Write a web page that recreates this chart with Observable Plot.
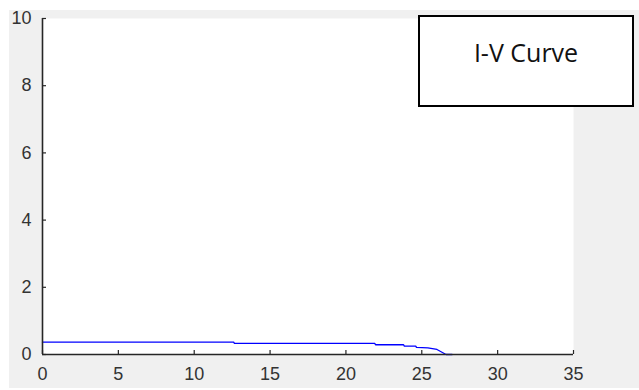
<!DOCTYPE html>
<html>
<head>
<meta charset="utf-8">
<script src="https://cdn.jsdelivr.net/npm/d3@7"></script>
<script src="https://cdn.jsdelivr.net/npm/@observablehq/plot@0.6"></script>
<style>
  html, body { margin: 0; padding: 0; background: #ffffff; }
  #wrap { position: relative; width: 639px; height: 390px; overflow: hidden; }
  #bg { position: absolute; left: 9px; top: 10px; width: 630px; height: 378px; background: #f0f0f0; }
  #chart { position: absolute; left: 0; top: 0; }
  #box { position: absolute; left: 418px; top: 15px; width: 212px; height: 88px; border: 2px solid #000; background: #fff;
         font-family: "Open Sans", sans-serif; font-size: 25px; color: #111; text-align: center; box-sizing: content-box; }
  #box span { display: block; margin-top: 19px; line-height: 32px; }
</style>
</head>
<body>
<div id="wrap">
  <div id="bg"></div>
  <div id="chart"></div>
  <div id="box"><span>I-V Curve</span></div>
</div>
<script>
const voltage = [0, 12.6, 12.65, 21.9, 21.95, 23.8, 23.85, 24.6, 24.65, 25.4, 26.0, 26.6, 27.0];
const current = [0.366, 0.366, 0.33, 0.33, 0.29, 0.29, 0.25, 0.25, 0.21, 0.20, 0.15, 0, 0];
const xTicks = [0, 5, 10, 15, 20, 25, 30, 35];
const yTicks = [0, 2, 4, 6, 8, 10];

const data = voltage.map((v, k) => ({v, i: current[k]}));
const axisColor = "#262626";
const labelFont = {fontSize: 18, fill: "#333333"};

const chart = Plot.plot({
  width: 639,
  height: 390,
  marginLeft: 42,
  marginRight: 66,
  marginTop: 18,
  marginBottom: 36,
  style: {background: "transparent", fontFamily: "'Liberation Sans', Arial, sans-serif"},
  x: {domain: [0, 35]},
  y: {domain: [0, 10]},
  marks: [
    Plot.frame({fill: "#ffffff", stroke: null}),
    Plot.line(data, {x: "v", y: "i", stroke: "#0000ff", strokeWidth: 1.3}),
    Plot.tickX(xTicks, {x: d => d, insetTop: 332, stroke: axisColor, strokeWidth: 1.2}),
    Plot.tickY(yTicks, {y: d => d, insetRight: 527, stroke: axisColor, strokeWidth: 1.2}),
    Plot.ruleX([0], {stroke: axisColor, strokeWidth: 1.6}),
    Plot.ruleY([0], {stroke: axisColor, strokeWidth: 1.6}),
    Plot.axisX({ticks: xTicks, tickSize: 0, tickPadding: 13, label: null, ...labelFont, color: "#333333"}),
    Plot.axisY({ticks: yTicks, tickSize: 0, tickPadding: 11, label: null, ...labelFont, color: "#333333"})
  ]
});
document.getElementById("chart").appendChild(chart);
</script>
</body>
</html>
